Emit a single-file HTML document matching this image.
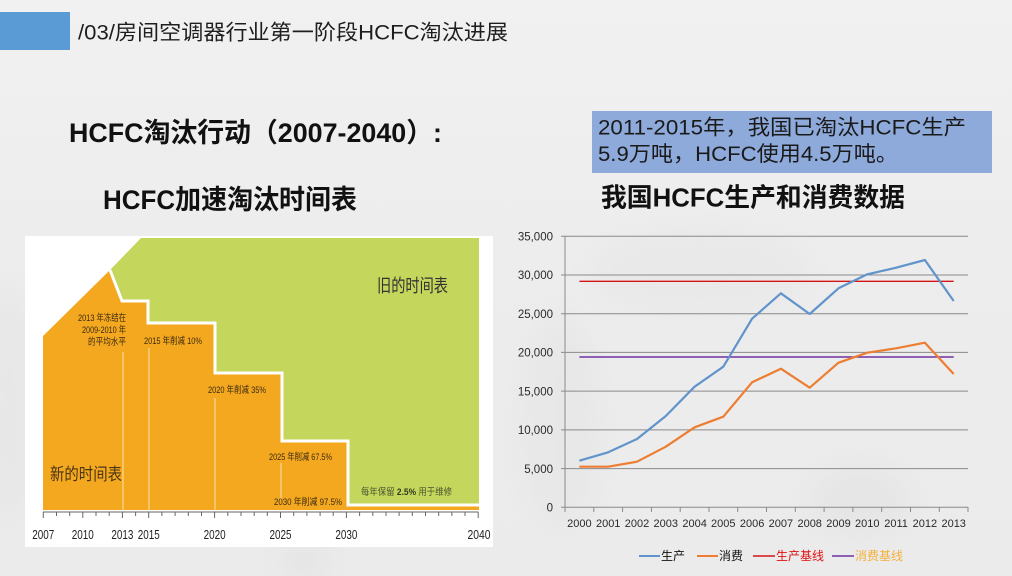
<!DOCTYPE html>
<html>
<head>
<meta charset="utf-8">
<style>
  html,body{margin:0;padding:0;}
  body{width:1012px;height:576px;overflow:hidden;background:#ececec;}
  svg{display:block;}
  text{font-family:"Liberation Sans","Noto Sans CJK SC",sans-serif;}
</style>
</head>
<body>
<svg width="1012" height="576" viewBox="0 0 1012 576" xmlns="http://www.w3.org/2000/svg">
  <defs>
    <linearGradient id="bg" x1="0" y1="0" x2="0" y2="1">
      <stop offset="0" stop-color="#f1f1f1"/>
      <stop offset="0.4" stop-color="#ededed"/>
      <stop offset="1" stop-color="#ebebeb"/>
    </linearGradient>
    <filter id="blur" x="-50%" y="-50%" width="200%" height="200%"><feGaussianBlur stdDeviation="14"/></filter>
  </defs>
  <rect x="0" y="0" width="1012" height="576" fill="url(#bg)"/>
  <!-- soft map blobs -->
  <g filter="url(#blur)" opacity="0.35">
    <ellipse cx="10" cy="400" rx="25" ry="120" fill="#dedede"/>
    <ellipse cx="560" cy="420" rx="40" ry="110" fill="#e0e0e0"/>
    <ellipse cx="700" cy="270" rx="110" ry="45" fill="#e2e2e2"/>
    <ellipse cx="860" cy="500" rx="50" ry="35" fill="#dcdcdc"/>
    <ellipse cx="305" cy="562" rx="25" ry="14" fill="#d4d4d4"/>
  </g>

  <!-- header -->
  <rect x="0" y="12" width="70" height="38" fill="#5b9bd5"/>
  <text x="78" y="39.5" font-size="21" fill="#1e1e1e" textLength="430" lengthAdjust="spacingAndGlyphs">/03/房间空调器行业第一阶段HCFC淘汰进展</text>

  <!-- left titles -->
  <text x="69" y="142" font-size="27" font-weight="bold" fill="#111" textLength="373" lengthAdjust="spacingAndGlyphs">HCFC淘汰行动（2007-2040）:</text>
  <text x="103" y="209" font-size="27" font-weight="bold" fill="#111" textLength="254" lengthAdjust="spacingAndGlyphs">HCFC加速淘汰时间表</text>

  <!-- right blue box -->
  <rect x="592" y="111" width="400" height="62" fill="#8eaadb"/>
  <text x="598" y="134.5" font-size="21" fill="#1a1a1a" textLength="368" lengthAdjust="spacingAndGlyphs">2011-2015年，我国已淘汰HCFC生产</text>
  <text x="598" y="161" font-size="21" fill="#1a1a1a" textLength="300" lengthAdjust="spacingAndGlyphs">5.9万吨，HCFC使用4.5万吨。</text>
  <text x="601" y="206.5" font-size="26" font-weight="bold" fill="#111" textLength="304" lengthAdjust="spacingAndGlyphs">我国HCFC生产和消费数据</text>

  <!-- LEFT CHART -->
  <rect x="25" y="236" width="468" height="311" fill="#ffffff"/>
  <polygon fill="#c4d65c" points="141,238 479,238 479,506 348,506 348,441 282,441 282,373 215,373 215,323 148,323 148,301 122,301 110,270"/>
  <polygon fill="#f4a81f" points="43,510 43,336 110,270 122,301 148,301 148,323 215,323 215,373 282,373 282,441 348,441 348,506 479,506 479,510"/>
  <polyline fill="none" stroke="#ffffff" stroke-width="3" points="110,270 122,301 148,301 148,323 215,323 215,373 282,373 282,441 348,441 348,505 479,505"/>
  <g stroke="#fbe0a8" stroke-width="1">
    <line x1="123" y1="352" x2="123" y2="510"/>
    <line x1="149" y1="348" x2="149" y2="510"/>
    <line x1="215" y1="398" x2="215" y2="510"/>
    <line x1="281" y1="463" x2="281" y2="500"/>
  </g>
  <g font-size="9.5" fill="#3b2a12">
    <text x="126" y="321" text-anchor="end" textLength="48" lengthAdjust="spacingAndGlyphs">2013 年冻结在</text>
    <text x="126" y="333" text-anchor="end" textLength="44" lengthAdjust="spacingAndGlyphs">2009-2010 年</text>
    <text x="126" y="345" text-anchor="end" textLength="38" lengthAdjust="spacingAndGlyphs">的平均水平</text>
    <text x="144" y="344" textLength="58" lengthAdjust="spacingAndGlyphs">2015 年削减 10%</text>
    <text x="208" y="393" textLength="58" lengthAdjust="spacingAndGlyphs">2020 年削减 35%</text>
    <text x="269" y="460" textLength="63" lengthAdjust="spacingAndGlyphs">2025 年削减 67.5%</text>
    <text x="274" y="505" textLength="68" lengthAdjust="spacingAndGlyphs">2030 年削减 97.5%</text>
  </g>
  <text x="361" y="495" font-size="9.5" fill="#4a5530" textLength="91" lengthAdjust="spacingAndGlyphs">每年保留 <tspan font-weight="bold" fill="#2e3a18">2.5%</tspan> 用于维修</text>
  <text x="50" y="480" font-size="17" fill="#4a3514" textLength="72" lengthAdjust="spacingAndGlyphs">新的时间表</text>
  <text x="377" y="292" font-size="18" fill="#333" textLength="71" lengthAdjust="spacingAndGlyphs">旧的时间表</text>

  <!-- left axis -->
  <line x1="43" y1="512" x2="478.5" y2="512" stroke="#666" stroke-width="1"/>
  <g stroke="#666" stroke-width="1">
    <line x1="43.3" y1="512" x2="43.3" y2="518"/>
    <line x1="56.5" y1="512" x2="56.5" y2="516"/>
    <line x1="69.7" y1="512" x2="69.7" y2="516"/>
    <line x1="82.8" y1="512" x2="82.8" y2="518"/>
    <line x1="96.0" y1="512" x2="96.0" y2="516"/>
    <line x1="109.2" y1="512" x2="109.2" y2="516"/>
    <line x1="122.4" y1="512" x2="122.4" y2="518"/>
    <line x1="135.6" y1="512" x2="135.6" y2="516"/>
    <line x1="148.7" y1="512" x2="148.7" y2="518"/>
    <line x1="161.9" y1="512" x2="161.9" y2="516"/>
    <line x1="175.1" y1="512" x2="175.1" y2="516"/>
    <line x1="188.3" y1="512" x2="188.3" y2="516"/>
    <line x1="201.5" y1="512" x2="201.5" y2="516"/>
    <line x1="214.6" y1="512" x2="214.6" y2="518"/>
    <line x1="227.8" y1="512" x2="227.8" y2="516"/>
    <line x1="241.0" y1="512" x2="241.0" y2="516"/>
    <line x1="254.2" y1="512" x2="254.2" y2="516"/>
    <line x1="267.3" y1="512" x2="267.3" y2="516"/>
    <line x1="280.5" y1="512" x2="280.5" y2="518"/>
    <line x1="293.7" y1="512" x2="293.7" y2="516"/>
    <line x1="306.9" y1="512" x2="306.9" y2="516"/>
    <line x1="320.1" y1="512" x2="320.1" y2="516"/>
    <line x1="333.2" y1="512" x2="333.2" y2="516"/>
    <line x1="346.4" y1="512" x2="346.4" y2="518"/>
    <line x1="359.6" y1="512" x2="359.6" y2="516"/>
    <line x1="372.8" y1="512" x2="372.8" y2="516"/>
    <line x1="386.0" y1="512" x2="386.0" y2="516"/>
    <line x1="399.1" y1="512" x2="399.1" y2="516"/>
    <line x1="412.3" y1="512" x2="412.3" y2="516"/>
    <line x1="425.5" y1="512" x2="425.5" y2="516"/>
    <line x1="438.7" y1="512" x2="438.7" y2="516"/>
    <line x1="451.9" y1="512" x2="451.9" y2="516"/>
    <line x1="465.0" y1="512" x2="465.0" y2="516"/>
    <line x1="478.2" y1="512" x2="478.2" y2="518"/>
  </g>
  <g font-size="13" fill="#222" text-anchor="middle">
    <text x="43.3" y="539" textLength="22" lengthAdjust="spacingAndGlyphs">2007</text>
    <text x="82.8" y="539" textLength="22" lengthAdjust="spacingAndGlyphs">2010</text>
    <text x="122.4" y="539" textLength="22" lengthAdjust="spacingAndGlyphs">2013</text>
    <text x="148.7" y="539" textLength="22" lengthAdjust="spacingAndGlyphs">2015</text>
    <text x="214.6" y="539" textLength="22" lengthAdjust="spacingAndGlyphs">2020</text>
    <text x="280.5" y="539" textLength="22" lengthAdjust="spacingAndGlyphs">2025</text>
    <text x="346.4" y="539" textLength="22" lengthAdjust="spacingAndGlyphs">2030</text>
    <text x="479" y="539" textLength="23" lengthAdjust="spacingAndGlyphs">2040</text>
  </g>

  <!-- RIGHT CHART -->
  <g stroke="#8a8a8a" stroke-width="1">
    <line x1="561" y1="236.3" x2="968" y2="236.3"/>
    <line x1="561" y1="275" x2="968" y2="275"/>
    <line x1="561" y1="313.7" x2="968" y2="313.7"/>
    <line x1="561" y1="352.4" x2="968" y2="352.4"/>
    <line x1="561" y1="391.1" x2="968" y2="391.1"/>
    <line x1="561" y1="429.9" x2="968" y2="429.9"/>
    <line x1="561" y1="468.6" x2="968" y2="468.6"/>
    <line x1="561" y1="507.3" x2="968" y2="507.3"/>
    <line x1="565" y1="236.3" x2="565" y2="507.3"/>
  </g>
  <g stroke="#8a8a8a" stroke-width="1">
    <line x1="565" y1="507" x2="565" y2="512"/>
    <line x1="593.8" y1="507" x2="593.8" y2="512"/>
    <line x1="622.6" y1="507" x2="622.6" y2="512"/>
    <line x1="651.4" y1="507" x2="651.4" y2="512"/>
    <line x1="680.2" y1="507" x2="680.2" y2="512"/>
    <line x1="709" y1="507" x2="709" y2="512"/>
    <line x1="737.7" y1="507" x2="737.7" y2="512"/>
    <line x1="766.5" y1="507" x2="766.5" y2="512"/>
    <line x1="795.3" y1="507" x2="795.3" y2="512"/>
    <line x1="824.1" y1="507" x2="824.1" y2="512"/>
    <line x1="852.9" y1="507" x2="852.9" y2="512"/>
    <line x1="881.7" y1="507" x2="881.7" y2="512"/>
    <line x1="910.5" y1="507" x2="910.5" y2="512"/>
    <line x1="939.3" y1="507" x2="939.3" y2="512"/>
    <line x1="968" y1="507" x2="968" y2="512"/>
  </g>
  <g font-size="11.5" fill="#2a2a2a" text-anchor="end">
    <text x="553" y="240.5">35,000</text>
    <text x="553" y="279.2">30,000</text>
    <text x="553" y="317.9">25,000</text>
    <text x="553" y="356.6">20,000</text>
    <text x="553" y="395.3">15,000</text>
    <text x="553" y="434.1">10,000</text>
    <text x="553" y="472.8">5,000</text>
    <text x="553" y="511.5">0</text>
  </g>
  <g font-size="11" fill="#2a2a2a" text-anchor="middle">
    <text x="579.4" y="527">2000</text>
    <text x="608.2" y="527">2001</text>
    <text x="637" y="527">2002</text>
    <text x="665.8" y="527">2003</text>
    <text x="694.6" y="527">2004</text>
    <text x="723.3" y="527">2005</text>
    <text x="752.1" y="527">2006</text>
    <text x="780.9" y="527">2007</text>
    <text x="809.7" y="527">2008</text>
    <text x="838.5" y="527">2009</text>
    <text x="867.3" y="527">2010</text>
    <text x="896.1" y="527">2011</text>
    <text x="924.9" y="527">2012</text>
    <text x="953.7" y="527">2013</text>
  </g>
  <line x1="579.4" y1="281.3" x2="953.7" y2="281.3" stroke="#d41414" stroke-width="1.4"/>
  <line x1="579.4" y1="357" x2="953.7" y2="357" stroke="#7030a0" stroke-width="1.4"/>
  <polyline fill="none" stroke="#6094cb" stroke-width="2.2" stroke-linejoin="round" points="579.4,460.7 608.2,452.3 637,439 665.8,416 694.6,386.7 723.3,366.7 752.1,318.7 780.9,293.3 809.7,314 838.5,288.3 867.3,274.3 896.1,267.7 924.9,260 953.7,301"/>
  <polyline fill="none" stroke="#ed7d31" stroke-width="2.2" stroke-linejoin="round" points="579.4,466.7 608.2,466.7 637,461.7 665.8,446.7 694.6,427.3 723.3,416.7 752.1,382.3 780.9,368.7 809.7,387.7 838.5,362.7 867.3,352.7 896.1,348.3 924.9,342.7 953.7,374"/>

  <!-- legend -->
  <line x1="639" y1="556" x2="660" y2="556" stroke="#6094cb" stroke-width="2"/>
  <text x="661" y="560" font-size="12" fill="#111">生产</text>
  <line x1="697" y1="556" x2="718" y2="556" stroke="#ed7d31" stroke-width="2"/>
  <text x="719" y="560" font-size="12" fill="#111">消费</text>
  <line x1="753" y1="556" x2="775" y2="556" stroke="#d41414" stroke-width="1.4"/>
  <text x="776" y="560" font-size="12" fill="#e01010">生产基线</text>
  <line x1="832" y1="556" x2="854" y2="556" stroke="#7030a0" stroke-width="1.4"/>
  <text x="855" y="560" font-size="12" fill="#f3b03c">消费基线</text>
</svg>
</body>
</html>
